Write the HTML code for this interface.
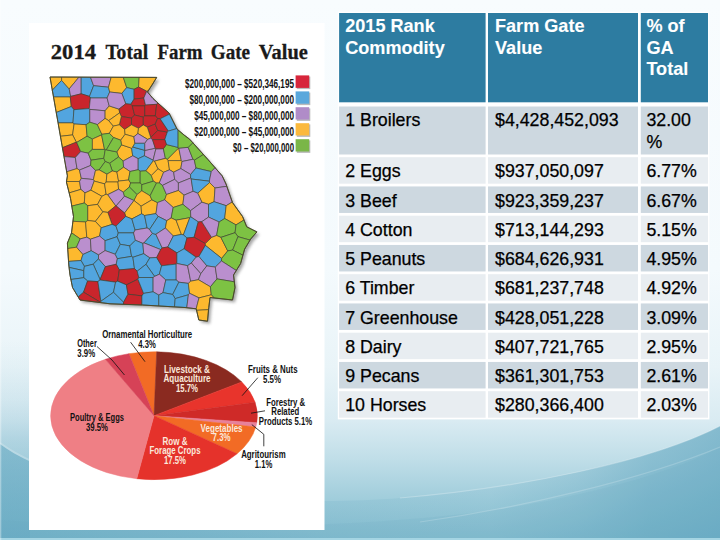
<!DOCTYPE html>
<html><head><meta charset="utf-8"><title>2014 Total Farm Gate Value</title>
<style>
html,body{margin:0;padding:0;}
body{width:720px;height:540px;overflow:hidden;position:relative;font-family:"Liberation Sans",sans-serif;
background:#ffffff;}
#bg{position:absolute;left:0;top:0;width:720px;height:540px;}
#panel{position:absolute;left:0;top:0;width:720px;height:540px;}
.c{position:absolute;}
.t{position:absolute;-webkit-text-stroke:0.25px currentColor;font-size:17.8px;line-height:21.6px;color:#000;white-space:pre;}
.h{font-weight:bold;color:#fff;font-size:18.1px;-webkit-text-stroke:0.1px #fff;}
</style></head><body>
<svg id="bg" viewBox="0 0 720 540">
<defs>
<linearGradient id="g1" x1="0" y1="0" x2="0" y2="1">
<stop offset="0" stop-color="#f8fcfe"/>
<stop offset="0.5" stop-color="#f4fafd"/>
<stop offset="0.68" stop-color="#e9f4f8"/>
<stop offset="0.78" stop-color="#d9ebf2"/>
<stop offset="0.85" stop-color="#c0dee8"/>
<stop offset="0.92" stop-color="#a2cedc"/>
<stop offset="1" stop-color="#86bed0"/>
</linearGradient>
<linearGradient id="gw1" x1="0" y1="0" x2="1" y2="0">
<stop offset="0" stop-color="#5fa5bf" stop-opacity="0.52"/>
<stop offset="0.06" stop-color="#5fa5bf" stop-opacity="0.5"/>
<stop offset="0.45" stop-color="#5fa5bf" stop-opacity="0.16"/>
<stop offset="0.68" stop-color="#5fa5bf" stop-opacity="0.1"/>
<stop offset="0.8" stop-color="#5fa5bf" stop-opacity="0.3"/>
<stop offset="0.9" stop-color="#5fa5bf" stop-opacity="0.55"/>
<stop offset="1" stop-color="#5fa5bf" stop-opacity="0.68"/>
</linearGradient>
<linearGradient id="gd" gradientUnits="userSpaceOnUse" x1="470" y1="400" x2="690" y2="560">
<stop offset="0" stop-color="#5fa5bf" stop-opacity="0"/>
<stop offset="0.35" stop-color="#5fa5bf" stop-opacity="0.12"/>
<stop offset="0.7" stop-color="#5fa5bf" stop-opacity="0.5"/>
<stop offset="1" stop-color="#5fa5bf" stop-opacity="0.6"/>
</linearGradient>
<linearGradient id="gl" gradientUnits="userSpaceOnUse" x1="0" y1="340" x2="0" y2="470">
<stop offset="0" stop-color="#5fa5bf" stop-opacity="0"/>
<stop offset="0.46" stop-color="#5fa5bf" stop-opacity="0.1"/>
<stop offset="0.77" stop-color="#5fa5bf" stop-opacity="0.26"/>
<stop offset="1" stop-color="#5fa5bf" stop-opacity="0.3"/>
</linearGradient>
</defs>
<rect width="720" height="540" fill="url(#g1)"/>
<rect x="0" y="340" width="30" height="200" fill="url(#gl)"/>
<path d="M0,444 C15,455 40,470 100,482 C200,500 320,505 400,498 C520,488 650,462 720,426 L720,540 L0,540Z" fill="url(#gw1)"/>
<path d="M0,520 C200,535 420,524 520,506 C600,492 680,470 720,447 L720,540 L0,540Z" fill="#5fa5bf" opacity="0.12"/>
<path d="M0,443 C15,454 40,469 100,481" stroke="#ffffff" stroke-opacity="0.2" stroke-width="2" fill="none"/>
<path d="M400,498 C520,488 650,462 720,426" stroke="#ffffff" stroke-opacity="0.25" stroke-width="1.2" fill="none"/>
<path d="M420,522 C520,508 640,480 720,447" stroke="#ffffff" stroke-opacity="0.18" stroke-width="1.2" fill="none"/>
<rect x="0" y="538" width="720" height="2" fill="#a5d5e3"/>
<rect x="0" y="0" width="1.3" height="540" fill="#ffffff" opacity="0.35"/>
<rect x="337.8" y="11.7" width="371.6" height="407.7" fill="#ffffff"/>
</svg>
<svg id="panel" viewBox="0 0 720 540">
<rect x="29" y="23" width="295.5" height="507" fill="#ffffff"/>
<g font-family="Liberation Serif" font-weight="bold" font-size="20.2" fill="#1a1a1a" stroke="#1a1a1a" stroke-width="0.3">
<text x="50.8" y="59.3" textLength="45.2" lengthAdjust="spacingAndGlyphs">2014</text>
<text x="105.4" y="59.3" textLength="42.7" lengthAdjust="spacingAndGlyphs">Total</text>
<text x="157.5" y="59.3" textLength="45" lengthAdjust="spacingAndGlyphs">Farm</text>
<text x="210.8" y="59.3" textLength="39.2" lengthAdjust="spacingAndGlyphs">Gate</text>
<text x="258.8" y="59.3" textLength="49" lengthAdjust="spacingAndGlyphs">Value</text>
</g>
<g>
<filter id="mb" x="-10%" y="-10%" width="120%" height="120%"><feGaussianBlur stdDeviation="1.6"/></filter>
<polygon points="52.5,79.5 159.2,79.9 154.5,87.5 150.0,94.5 155.5,101.0 161.5,106.5 171.5,115.5 175.5,123.5 179.5,131.5 186.5,137.5 192.1,141.7 210.5,162.1 224.7,178.4 228.5,186.5 234.9,204.9 245.1,219.1 249.2,229.3 259.4,234.4 253.2,241.5 247.1,251.7 243.1,266.0 236.0,277.5 237.5,290.0 235.0,302.5 212.5,300.0 211.2,310.0 210.0,323.8 201.2,322.5 198.8,311.2 187.5,310.0 145.0,307.5 112.5,306.2 82.5,302.5 75.0,290.0 72.5,277.5 71.2,267.5 70.3,252.5 69.9,245.6 74.0,235.4 76.0,219.1 73.0,200.8 68.9,184.5 69.9,178.4" fill="#8a8a8a" opacity="0.75" filter="url(#mb)"/>
<polygon points="50.0,77.0 156.7,77.4 152.0,85.0 147.5,92.0 153.0,98.5 159.0,104.0 169.0,113.0 173.0,121.0 177.0,129.0 184.0,135.0 189.6,139.2 208.0,159.6 222.2,175.9 226.0,184.0 232.4,202.4 242.6,216.6 246.7,226.8 256.9,231.9 250.7,239.0 244.6,249.2 240.6,263.5 233.5,275.0 235.0,287.5 232.5,300.0 210.0,297.5 208.8,307.5 207.5,321.2 198.8,320.0 196.2,308.8 185.0,307.5 142.5,305.0 110.0,303.8 80.0,300.0 72.5,287.5 70.0,275.0 68.8,265.0 67.8,250.0 67.4,243.1 71.5,232.9 73.5,216.6 70.5,198.3 66.4,182.0 67.4,175.9" fill="#52a5df"/>
<g stroke="#40402c" stroke-width="0.6" stroke-linejoin="round">
<polygon points="61.6,80.4 61.6,77.0 50.0,77.0 52.3,90.2" fill="#fdb92e"/>
<polygon points="61.6,80.4 52.3,90.2 53.5,97.0 70.3,97.0 70.7,96.4 69.2,88.9" fill="#52a5df"/>
<polygon points="61.6,80.4 69.2,88.9 79.0,77.1 61.6,77.0" fill="#fdb92e"/>
<polygon points="69.2,88.9 70.7,96.4 81.2,93.8 81.2,77.1 79.0,77.1" fill="#ba8fce"/>
<polygon points="81.2,93.8 89.5,96.4 93.6,85.7 90.5,77.2 81.2,77.1" fill="#52a5df"/>
<polygon points="93.6,85.7 108.5,87.2 111.2,77.2 90.5,77.2" fill="#ba8fce"/>
<polygon points="109.7,92.0 108.5,87.2 93.6,85.7 89.5,96.4 90.4,98.0 107.1,98.0" fill="#52a5df"/>
<polygon points="71.3,106.5 70.3,97.0 53.5,97.0 56.2,112.5" fill="#fdb92e"/>
<polygon points="89.3,108.6 90.4,98.0 89.5,96.4 81.2,93.8 70.7,96.4 70.3,97.0 71.3,106.5 73.9,109.7" fill="#c9252c"/>
<polygon points="73.0,122.9 73.9,109.7 71.3,106.5 56.2,112.5 58.1,122.9" fill="#52a5df"/>
<polygon points="89.3,108.6 73.9,109.7 73.0,122.9 74.1,124.0 86.1,124.7 89.8,122.2 89.8,109.4" fill="#52a5df"/>
<polygon points="107.1,98.0 90.4,98.0 89.3,108.6 89.8,109.4 105.1,110.8 109.2,105.9" fill="#ba8fce"/>
<polygon points="105.1,110.8 89.8,109.4 89.8,122.2 97.4,124.6 105.1,118.4" fill="#ba8fce"/>
<polygon points="109.2,105.9 105.1,110.8 105.1,118.4 108.7,120.6 119.7,112.8 119.0,109.1" fill="#fdb92e"/>
<polygon points="72.6,134.9 74.1,124.0 73.0,122.9 58.1,122.9 60.4,136.3" fill="#fdb92e"/>
<polygon points="86.1,124.7 74.1,124.0 72.6,134.9 76.3,142.2 76.7,142.4 87.1,136.2" fill="#fdb92e"/>
<polygon points="76.3,142.2 72.6,134.9 60.4,136.3 62.4,147.7" fill="#fdb92e"/>
<polygon points="97.4,124.6 89.8,122.2 86.1,124.7 87.1,136.2 92.4,139.1 101.6,134.9 101.9,134.3" fill="#7dc243"/>
<polygon points="113.4,126.1 108.7,120.6 105.1,118.4 97.4,124.6 101.9,134.3 109.4,133.3" fill="#fdb92e"/>
<polygon points="75.3,157.5 80.7,151.6 76.7,142.4 76.3,142.2 62.4,147.7 64.0,156.6" fill="#c9252c"/>
<polygon points="92.4,149.4 92.4,139.1 87.1,136.2 76.7,142.4 80.7,151.6 88.2,153.2" fill="#7dc243"/>
<polygon points="101.6,134.9 92.4,139.1 92.4,149.4 104.5,149.4" fill="#fdb92e"/>
<polygon points="113.6,137.5 109.4,133.3 101.9,134.3 101.6,134.9 104.5,149.4 105.2,149.9 106.4,149.8" fill="#7dc243"/>
<polygon points="118.5,157.0 123.2,161.0 132.7,155.8 131.6,148.2 121.5,144.8 116.8,151.9" fill="#fdb92e"/>
<polygon points="131.6,148.2 132.7,155.8 138.2,158.7 144.4,155.8 144.9,150.4 144.8,150.3 132.8,147.0" fill="#52a5df"/>
<polygon points="144.9,150.4 144.4,155.8 153.1,160.2 155.9,148.8 155.3,148.2" fill="#ba8fce"/>
<polygon points="77.0,168.6 75.3,157.5 64.0,156.6 66.7,171.8" fill="#ba8fce"/>
<polygon points="91.0,160.2 88.2,153.2 80.7,151.6 75.3,157.5 77.0,168.6 79.5,170.1 90.6,165.5" fill="#ba8fce"/>
<polygon points="105.2,149.9 104.5,149.4 92.4,149.4 88.2,153.2 91.0,160.2 103.8,158.3" fill="#7dc243"/>
<polygon points="99.2,169.9 105.2,161.5 103.8,158.3 91.0,160.2 90.6,165.5 95.5,170.4" fill="#7dc243"/>
<polygon points="105.2,161.5 109.7,163.3 118.5,157.0 116.8,151.9 106.4,149.8 105.2,149.9 103.8,158.3" fill="#7dc243"/>
<polygon points="123.6,167.2 123.2,161.0 118.5,157.0 109.7,163.3 112.3,171.0 116.9,172.0" fill="#7dc243"/>
<polygon points="99.2,169.9 106.9,174.2 112.3,171.0 109.7,163.3 105.2,161.5" fill="#7dc243"/>
<polygon points="138.2,158.7 132.7,155.8 123.2,161.0 123.6,167.2 130.0,171.5 138.2,169.7" fill="#ba8fce"/>
<polygon points="140.2,171.2 145.9,170.8 153.4,160.7 153.1,160.2 144.4,155.8 138.2,158.7 138.2,169.7" fill="#52a5df"/>
<polygon points="151.3,175.5 158.0,168.8 154.6,161.1 153.4,160.7 145.9,170.8" fill="#fdb92e"/>
<polygon points="79.6,181.5 81.3,178.3 79.5,170.1 77.0,168.6 66.7,171.8 67.4,175.9 66.5,181.5" fill="#fdb92e"/>
<polygon points="90.6,165.5 79.5,170.1 81.3,178.3 93.4,179.6 95.5,170.4" fill="#ba8fce"/>
<polygon points="93.4,179.6 94.2,181.1 104.6,183.9 106.2,182.0 106.9,174.2 99.2,169.9 95.5,170.4" fill="#fdb92e"/>
<polygon points="116.9,172.0 112.3,171.0 106.9,174.2 106.2,182.0 118.0,182.0 118.6,181.1" fill="#fdb92e"/>
<polygon points="128.5,180.0 130.0,171.5 123.6,167.2 116.9,172.0 118.6,181.1" fill="#fdb92e"/>
<polygon points="130.6,183.0 140.2,183.0 140.2,171.2 138.2,169.7 130.0,171.5 128.5,180.0" fill="#7dc243"/>
<polygon points="140.2,183.0 141.8,184.7 153.4,181.2 151.3,175.5 145.9,170.8 140.2,171.2" fill="#7dc243"/>
<polygon points="153.1,160.2 153.4,160.7 154.6,161.1 165.4,158.4 163.4,148.7 155.9,148.8" fill="#ba8fce"/>
<polygon points="163.4,148.7 165.4,158.4 167.4,159.4 178.7,148.1 178.1,147.4 166.4,144.5" fill="#7dc243"/>
<polygon points="178.8,148.1 178.7,148.1 167.4,159.4 168.1,160.6 181.3,160.6" fill="#fdb92e"/>
<polygon points="193.0,159.3 188.2,147.3 178.8,148.1 181.3,160.6 182.0,161.5" fill="#ba8fce"/>
<polygon points="188.2,147.3 193.0,159.3 194.4,160.2 203.4,154.5 192.8,142.7" fill="#7dc243"/>
<polygon points="168.1,160.6 167.4,159.4 165.4,158.4 154.6,161.1 158.0,168.8 163.6,172.3 169.5,169.8" fill="#fdb92e"/>
<polygon points="180.8,168.6 182.0,161.5 181.3,160.6 168.1,160.6 169.5,169.8 173.7,172.2" fill="#fdb92e"/>
<polygon points="180.8,168.6 190.6,174.5 196.0,168.0 194.4,160.2 193.0,159.3 182.0,161.5" fill="#ba8fce"/>
<polygon points="194.4,160.2 196.0,168.0 211.3,171.6 215.1,167.7 208.0,159.6 203.4,154.5" fill="#7dc243"/>
<polygon points="158.0,168.8 151.3,175.5 153.4,181.2 156.5,183.0 159.3,183.0 163.6,172.3" fill="#fdb92e"/>
<polygon points="169.5,169.8 163.6,172.3 159.3,183.0 162.5,185.4 174.7,179.3 173.7,172.2" fill="#ba8fce"/>
<polygon points="174.7,179.3 178.4,183.0 190.6,178.1 190.6,174.5 180.8,168.6 173.7,172.2" fill="#ba8fce"/>
<polygon points="191.2,179.0 209.3,181.2 211.3,171.6 196.0,168.0 190.6,174.5 190.6,178.1" fill="#52a5df"/>
<polygon points="211.3,171.6 209.3,181.2 209.6,182.6 215.0,188.0 226.8,186.3 226.0,184.0 222.2,175.9 215.1,167.7" fill="#ba8fce"/>
<polygon points="80.8,189.4 79.6,181.5 66.5,181.5 66.4,182.0 69.2,192.9" fill="#fdb92e"/>
<polygon points="81.3,178.3 79.6,181.5 80.8,189.4 85.0,192.9 90.9,190.2 94.2,181.1 93.4,179.6" fill="#ba8fce"/>
<polygon points="104.6,183.9 94.2,181.1 90.9,190.2 101.9,196.3 106.1,194.2" fill="#fdb92e"/>
<polygon points="118.6,189.2 118.0,182.0 106.2,182.0 104.6,183.9 106.1,194.2 107.6,194.7" fill="#fdb92e"/>
<polygon points="129.4,187.0 130.6,183.0 128.5,180.0 118.6,181.1 118.0,182.0 118.6,189.2 123.3,192.2" fill="#fdb92e"/>
<polygon points="129.4,187.0 137.0,194.6 141.8,190.8 141.8,184.7 140.2,183.0 130.6,183.0" fill="#7dc243"/>
<polygon points="141.8,184.7 141.8,190.8 150.1,195.8 156.5,183.0 153.4,181.2" fill="#7dc243"/>
<polygon points="84.3,203.0 85.0,192.9 80.8,189.4 69.2,192.9 70.5,198.3 71.8,206.1" fill="#fdb92e"/>
<polygon points="90.9,190.2 85.0,192.9 84.3,203.0 87.8,205.7 97.6,204.4 101.9,196.3" fill="#fdb92e"/>
<polygon points="115.7,205.9 116.1,205.9 124.5,196.2 123.3,192.2 118.6,189.2 107.6,194.7" fill="#ba8fce"/>
<polygon points="124.5,196.2 134.0,200.5 134.0,200.5 137.0,194.6 129.4,187.0 123.3,192.2" fill="#7dc243"/>
<polygon points="141.1,206.2 151.9,199.8 150.1,195.8 141.8,190.8 137.0,194.6 134.0,200.5" fill="#fdb92e"/>
<polygon points="85.6,222.0 87.8,220.5 87.8,205.7 84.3,203.0 71.8,206.1 73.5,216.6 72.9,221.3" fill="#7dc243"/>
<polygon points="97.6,204.4 87.8,205.7 87.8,220.5 95.4,221.4 102.9,211.8" fill="#fdb92e"/>
<polygon points="106.1,194.2 101.9,196.3 97.6,204.4 102.9,211.8 107.8,212.4 115.7,205.9 107.6,194.7" fill="#fdb92e"/>
<polygon points="124.6,213.0 134.0,200.5 124.5,196.2 116.1,205.9" fill="#ba8fce"/>
<polygon points="125.7,216.4 131.9,218.9 141.6,213.8 141.1,206.2 134.0,200.5 134.0,200.5 124.6,213.0" fill="#fdb92e"/>
<polygon points="144.6,215.5 156.0,213.6 157.5,202.6 151.9,199.8 141.1,206.2 141.6,213.8" fill="#fdb92e"/>
<polygon points="112.1,224.4 116.0,226.1 125.7,216.4 124.6,213.0 116.1,205.9 115.7,205.9 107.8,212.4" fill="#c9252c"/>
<polygon points="102.9,211.8 95.4,221.4 101.2,227.8 112.1,224.4 107.8,212.4" fill="#fdb92e"/>
<polygon points="85.6,222.0 72.9,221.3 71.5,232.8 80.2,238.9 86.8,237.2" fill="#fdb92e"/>
<polygon points="95.4,221.4 87.8,220.5 85.6,222.0 86.8,237.2 90.4,239.2 99.6,236.1 101.2,227.8" fill="#fdb92e"/>
<polygon points="99.6,236.1 105.1,240.7 117.1,236.7 118.3,232.9 116.0,226.1 112.1,224.4 101.2,227.8" fill="#52a5df"/>
<polygon points="116.0,226.1 118.3,232.9 133.6,232.9 135.1,230.0 131.9,218.9 125.7,216.4" fill="#52a5df"/>
<polygon points="147.1,228.0 144.6,215.5 141.6,213.8 131.9,218.9 135.1,230.0" fill="#52a5df"/>
<polygon points="149.6,229.4 158.2,216.4 156.0,213.6 144.6,215.5 147.1,228.0" fill="#52a5df"/>
<polygon points="76.5,247.2 80.2,238.9 71.5,232.8 71.5,232.9 67.4,243.1 67.7,248.6" fill="#7dc243"/>
<polygon points="91.2,250.7 90.4,239.2 86.8,237.2 80.2,238.9 76.5,247.2 82.9,254.5" fill="#ba8fce"/>
<polygon points="98.5,254.9 105.1,250.6 105.1,240.7 99.6,236.1 90.4,239.2 91.2,250.7" fill="#ba8fce"/>
<polygon points="105.1,240.7 105.1,250.6 115.3,254.3 120.3,244.3 117.1,236.7" fill="#52a5df"/>
<polygon points="120.3,244.3 129.8,245.9 135.4,240.3 133.6,232.9 118.3,232.9 117.1,236.7" fill="#52a5df"/>
<polygon points="133.6,232.9 135.4,240.3 142.9,243.4 144.0,242.9 152.4,233.4 149.6,229.4 147.1,228.0 135.1,230.0" fill="#ba8fce"/>
<polygon points="144.0,242.9 160.7,249.6 162.2,247.9 155.9,234.3 152.4,233.4" fill="#52a5df"/>
<polygon points="81.0,260.5 82.9,254.5 76.5,247.2 67.7,248.6 67.8,250.0 68.5,261.4" fill="#fdb92e"/>
<polygon points="93.2,264.2 98.5,258.9 98.5,254.9 91.2,250.7 82.9,254.5 81.0,260.5 84.4,266.4" fill="#52a5df"/>
<polygon points="105.4,266.7 116.2,264.3 117.4,258.7 115.3,254.3 105.1,250.6 98.5,254.9 98.5,258.9" fill="#ba8fce"/>
<polygon points="115.3,254.3 117.4,258.7 131.6,256.4 129.8,245.9 120.3,244.3" fill="#52a5df"/>
<polygon points="142.9,243.4 135.4,240.3 129.8,245.9 131.6,256.4 132.9,257.3 143.7,253.7" fill="#52a5df"/>
<polygon points="144.0,242.9 142.9,243.4 143.7,253.7 149.8,257.9 156.7,257.5 160.7,249.6" fill="#ba8fce"/>
<polygon points="83.8,270.7 84.4,266.4 81.0,260.5 68.5,261.4 68.8,265.0 69.0,267.4" fill="#52a5df"/>
<polygon points="100.1,279.6 105.4,266.7 98.5,258.9 93.2,264.2" fill="#52a5df"/>
<polygon points="116.2,264.3 119.3,269.9 134.5,268.6 132.9,257.3 131.6,256.4 117.4,258.7" fill="#52a5df"/>
<polygon points="132.9,257.3 134.5,268.6 137.2,271.2 146.0,264.3 149.8,257.9 143.7,253.7" fill="#52a5df"/>
<polygon points="146.0,264.3 154.6,276.4 159.4,274.2 161.6,265.8 156.7,257.5 149.8,257.9" fill="#52a5df"/>
<polygon points="159.3,183.0 156.5,183.0 150.1,195.8 151.9,199.8 157.5,202.6 164.7,199.8 166.5,194.5 162.5,185.4" fill="#7dc243"/>
<polygon points="162.5,185.4 166.5,194.5 178.4,190.5 178.4,183.0 174.7,179.3" fill="#ba8fce"/>
<polygon points="184.0,195.2 193.1,191.3 191.2,179.0 190.6,178.1 178.4,183.0 178.4,190.5" fill="#ba8fce"/>
<polygon points="193.1,191.3 197.7,193.2 209.6,182.6 209.3,181.2 191.2,179.0" fill="#52a5df"/>
<polygon points="201.9,202.2 208.5,204.3 214.1,201.7 215.0,188.0 209.6,182.6 197.7,193.2" fill="#fdb92e"/>
<polygon points="215.0,188.0 214.1,201.7 226.2,205.7 232.3,202.0 226.8,186.3" fill="#ba8fce"/>
<polygon points="166.5,194.5 164.7,199.8 173.2,207.5 182.9,204.3 184.0,195.2 178.4,190.5" fill="#fdb92e"/>
<polygon points="184.0,195.2 182.9,204.3 190.5,210.7 201.9,202.2 197.7,193.2 193.1,191.3" fill="#ba8fce"/>
<polygon points="166.7,220.7 171.2,218.0 173.2,207.5 164.7,199.8 157.5,202.6 156.0,213.6 158.2,216.4" fill="#ba8fce"/>
<polygon points="171.2,218.0 176.1,220.2 189.8,217.7 190.8,216.9 190.5,210.7 182.9,204.3 173.2,207.5" fill="#7dc243"/>
<polygon points="208.5,217.1 208.5,204.3 201.9,202.2 190.5,210.7 190.8,216.9 198.3,221.9 201.8,221.7" fill="#ba8fce"/>
<polygon points="214.1,201.7 208.5,204.3 208.5,217.1 219.1,222.0 224.7,218.5 226.2,205.7" fill="#52a5df"/>
<polygon points="224.7,218.5 236.0,224.9 244.0,220.0 242.6,216.6 232.4,202.4 232.3,202.0 226.2,205.7" fill="#fdb92e"/>
<polygon points="149.6,229.4 152.4,233.4 155.9,234.3 165.4,228.0 166.7,220.7 158.2,216.4" fill="#52a5df"/>
<polygon points="165.4,228.0 173.3,236.0 181.4,234.4 176.1,220.2 171.2,218.0 166.7,220.7" fill="#fdb92e"/>
<polygon points="183.4,234.9 189.8,217.7 176.1,220.2 181.4,234.4" fill="#fdb92e"/>
<polygon points="187.0,238.0 194.1,237.3 198.3,221.9 190.8,216.9 189.8,217.7 183.4,234.9" fill="#52a5df"/>
<polygon points="198.3,221.9 194.1,237.3 205.4,243.6 211.6,237.4 201.8,221.7" fill="#c9252c"/>
<polygon points="211.6,237.4 216.6,235.5 219.1,222.0 208.5,217.1 201.8,221.7" fill="#ba8fce"/>
<polygon points="235.1,232.7 236.0,224.9 224.7,218.5 219.1,222.0 216.6,235.5 220.9,237.4" fill="#7dc243"/>
<polygon points="236.0,224.9 235.1,232.7 238.0,236.7 250.0,240.1 250.7,239.0 256.9,231.9 246.7,226.8 244.0,220.0" fill="#7dc243"/>
<polygon points="162.2,247.9 167.8,247.0 173.3,236.0 165.4,228.0 155.9,234.3" fill="#ba8fce"/>
<polygon points="176.9,252.9 184.1,248.8 187.0,238.0 183.4,234.9 181.4,234.4 173.3,236.0 167.8,247.0" fill="#52a5df"/>
<polygon points="198.9,256.5 205.4,245.4 205.4,243.6 194.1,237.3 187.0,238.0 184.1,248.8 196.1,257.2" fill="#c9252c"/>
<polygon points="220.9,237.4 216.6,235.5 211.6,237.4 205.4,243.6 205.4,245.4 221.7,258.4 227.7,250.9" fill="#fdb92e"/>
<polygon points="232.7,250.1 238.0,236.7 235.1,232.7 220.9,237.4 227.7,250.9" fill="#7dc243"/>
<polygon points="242.9,255.2 244.6,249.2 250.0,240.1 238.0,236.7 232.7,250.1" fill="#7dc243"/>
<polygon points="156.7,257.5 161.6,265.8 176.2,264.1 176.9,263.5 176.9,252.9 167.8,247.0 162.2,247.9 160.7,249.6" fill="#c9252c"/>
<polygon points="176.9,263.5 187.6,265.7 191.3,263.0 196.1,257.2 184.1,248.8 176.9,252.9" fill="#52a5df"/>
<polygon points="206.8,265.9 215.3,267.1 221.5,261.0 221.7,258.4 205.4,245.4 198.9,256.5" fill="#52a5df"/>
<polygon points="221.7,258.4 221.5,261.0 236.3,270.5 240.6,263.5 242.9,255.2 232.7,250.1 227.7,250.9" fill="#7dc243"/>
<polygon points="200.8,273.7 206.8,265.9 198.9,256.5 196.1,257.2 191.3,263.0" fill="#ba8fce"/>
<polygon points="69.0,267.4 70.0,275.0 70.9,279.5 83.8,277.7 83.8,270.7" fill="#52a5df"/>
<polygon points="83.8,270.7 83.8,277.7 87.6,281.0 97.9,281.6 100.0,280.0 100.1,279.6 93.2,264.2 84.4,266.4" fill="#52a5df"/>
<polygon points="100.1,279.6 100.0,280.0 115.6,282.2 117.7,281.2 119.3,269.9 116.2,264.3 105.4,266.7" fill="#c9252c"/>
<polygon points="134.5,268.6 119.3,269.9 117.7,281.2 126.4,284.9 137.9,279.2 138.8,277.5 137.2,271.2" fill="#c9252c"/>
<polygon points="137.2,271.2 138.8,277.5 153.1,277.5 154.6,276.4 146.0,264.3" fill="#52a5df"/>
<polygon points="159.4,274.2 165.8,280.0 176.2,280.0 176.2,264.1 161.6,265.8" fill="#52a5df"/>
<polygon points="176.2,280.0 178.9,282.2 188.3,283.4 190.7,281.2 187.6,265.7 176.9,263.5 176.2,264.1" fill="#ba8fce"/>
<polygon points="187.6,265.7 190.7,281.2 198.4,279.7 200.8,273.7 191.3,263.0" fill="#ba8fce"/>
<polygon points="200.8,273.7 198.4,279.7 210.4,286.8 217.0,278.9 215.3,267.1 206.8,265.9" fill="#ba8fce"/>
<polygon points="221.5,261.0 215.3,267.1 217.0,278.9 234.3,281.8 233.5,275.0 236.3,270.5" fill="#ba8fce"/>
<polygon points="83.6,292.2 87.6,281.0 83.8,277.7 70.9,279.5 72.5,287.5 78.2,297.0" fill="#52a5df"/>
<polygon points="83.6,292.2 100.6,302.4 100.9,301.3 97.9,281.6 87.6,281.0" fill="#c9252c"/>
<polygon points="97.9,281.6 100.9,301.3 113.5,292.3 115.6,282.2 100.0,280.0" fill="#52a5df"/>
<polygon points="117.7,281.2 115.6,282.2 113.5,292.3 123.6,302.3 128.0,294.2 126.4,284.9" fill="#52a5df"/>
<polygon points="126.4,284.9 128.0,294.2 141.9,295.9 143.6,293.4 137.9,279.2" fill="#c9252c"/>
<polygon points="137.9,279.2 143.6,293.4 153.1,291.8 153.1,277.5 138.8,277.5" fill="#52a5df"/>
<polygon points="153.1,277.5 153.1,291.8 158.8,295.1 163.0,292.6 165.8,280.0 159.4,274.2 154.6,276.4" fill="#ba8fce"/>
<polygon points="163.0,292.6 172.7,294.5 178.9,282.2 176.2,280.0 165.8,280.0" fill="#52a5df"/>
<polygon points="172.7,294.5 175.2,298.6 188.4,294.8 189.6,293.3 188.3,283.4 178.9,282.2" fill="#52a5df"/>
<polygon points="188.3,283.4 189.6,293.3 199.0,297.9 211.3,294.8 210.4,286.8 198.4,279.7 190.7,281.2" fill="#fdb92e"/>
<polygon points="210.4,286.8 211.3,294.8 214.0,297.9 232.5,300.0 235.0,287.5 234.3,281.8 217.0,278.9" fill="#7dc243"/>
<polygon points="78.2,297.0 80.0,300.0 100.6,302.6 100.6,302.4 83.6,292.2" fill="#c9252c"/>
<polygon points="100.9,301.3 100.6,302.4 100.6,302.6 110.0,303.8 123.4,304.3 123.6,302.3 113.5,292.3" fill="#52a5df"/>
<polygon points="141.9,295.9 128.0,294.2 123.6,302.3 123.4,304.3 141.9,305.0" fill="#c9252c"/>
<polygon points="158.8,295.1 153.1,291.8 143.6,293.4 141.9,295.9 141.9,305.0 142.5,305.0 158.8,306.0" fill="#52a5df"/>
<polygon points="175.2,298.6 172.7,294.5 163.0,292.6 158.8,295.1 158.8,306.0 174.5,306.9" fill="#52a5df"/>
<polygon points="188.4,294.8 175.2,298.6 174.5,306.9 185.0,307.5 186.8,307.7" fill="#52a5df"/>
<polygon points="199.0,297.9 189.6,293.3 188.4,294.8 186.8,307.7 196.2,308.8" fill="#ba8fce"/>
<polygon points="208.5,309.7 208.8,307.5 210.0,297.5 214.0,297.9 211.3,294.8 199.0,297.9 196.2,308.8 196.6,310.3" fill="#fdb92e"/>
<polygon points="196.6,310.3 198.8,320.0 207.5,321.2 208.5,309.7" fill="#fdb92e"/>
<polygon points="108.5,87.2 109.7,92.0 121.8,93.4 126.7,87.6 123.3,77.3 111.2,77.2" fill="#fdb92e"/>
<polygon points="126.7,87.6 134.1,89.3 138.6,87.0 139.2,77.3 123.3,77.3" fill="#7dc243"/>
<polygon points="148.2,90.9 152.0,85.0 156.7,77.4 139.2,77.3 138.6,87.0 146.7,91.3" fill="#fdb92e"/>
<polygon points="134.1,99.1 134.1,89.3 126.7,87.6 121.8,93.4 125.7,103.8 130.8,104.3" fill="#52a5df"/>
<polygon points="143.8,98.0 146.7,91.3 138.6,87.0 134.1,89.3 134.1,99.1" fill="#c9252c"/>
<polygon points="132.3,105.9 144.8,105.9 145.5,105.1 143.8,98.0 134.1,99.1 130.8,104.3" fill="#c9252c"/>
<polygon points="156.7,104.3 157.9,103.0 153.0,98.5 147.5,92.0 148.2,90.9 146.7,91.3 143.8,98.0 145.5,105.1" fill="#ba8fce"/>
<polygon points="121.8,93.4 109.7,92.0 107.1,98.0 109.2,105.9 119.0,109.1 125.7,103.8" fill="#ba8fce"/>
<polygon points="134.6,115.0 132.3,105.9 130.8,104.3 125.7,103.8 119.0,109.1 119.7,112.8 121.3,116.5 131.5,118.1" fill="#c9252c"/>
<polygon points="143.3,117.2 144.8,115.9 144.8,105.9 132.3,105.9 134.6,115.0" fill="#c9252c"/>
<polygon points="144.8,105.9 144.8,115.9 155.3,115.9 156.7,104.3 145.5,105.1" fill="#c9252c"/>
<polygon points="156.7,104.3 155.3,115.9 157.6,118.5 160.2,118.8 169.6,114.1 169.0,113.0 159.0,104.0 157.9,103.0" fill="#c9252c"/>
<polygon points="121.3,116.5 119.3,124.8 124.6,129.4 131.5,124.8 131.5,118.1" fill="#c9252c"/>
<polygon points="131.5,124.8 138.5,128.3 143.3,124.9 143.3,117.2 134.6,115.0 131.5,118.1" fill="#c9252c"/>
<polygon points="143.3,124.9 147.3,127.2 155.2,124.1 157.6,118.5 155.3,115.9 144.8,115.9 143.3,117.2" fill="#c9252c"/>
<polygon points="150.7,137.4 150.6,138.2 152.5,139.6 164.8,139.6 167.3,132.0 157.7,130.4" fill="#c9252c"/>
<polygon points="147.3,127.2 150.7,137.4 157.7,130.4 155.2,124.1" fill="#c9252c"/>
<polygon points="157.7,130.4 167.3,132.0 168.4,131.1 160.2,118.8 157.6,118.5 155.2,124.1" fill="#c9252c"/>
<polygon points="160.2,118.8 168.4,131.1 176.8,128.6 173.0,121.0 169.6,114.1" fill="#52a5df"/>
<polygon points="178.1,147.4 178.1,130.0 177.0,129.0 176.8,128.6 168.4,131.1 167.3,132.0 164.8,139.6 166.4,144.5" fill="#52a5df"/>
<polygon points="178.1,147.4 178.7,148.1 178.8,148.1 188.2,147.3 192.8,142.7 189.6,139.2 184.0,135.0 178.1,130.0" fill="#7dc243"/>
<polygon points="119.7,112.8 108.7,120.6 113.4,126.1 119.3,124.8 121.3,116.5" fill="#fdb92e"/>
<polygon points="119.3,124.8 113.4,126.1 109.4,133.3 113.6,137.5 120.7,140.2 125.1,134.3 124.6,129.4" fill="#fdb92e"/>
<polygon points="124.6,129.4 125.1,134.3 133.9,136.8 137.9,133.5 138.5,128.3 131.5,124.8" fill="#fdb92e"/>
<polygon points="137.9,133.5 147.6,139.4 150.6,138.2 150.7,137.4 147.3,127.2 143.3,124.9 138.5,128.3" fill="#fdb92e"/>
<polygon points="125.1,134.3 120.7,140.2 121.5,144.8 131.6,148.2 132.8,147.0 134.9,143.3 133.9,136.8" fill="#fdb92e"/>
<polygon points="133.9,136.8 134.9,143.3 144.8,143.3 147.6,139.4 137.9,133.5" fill="#ba8fce"/>
<polygon points="116.8,151.9 121.5,144.8 120.7,140.2 113.6,137.5 106.4,149.8" fill="#7dc243"/>
<polygon points="144.8,150.3 144.8,143.3 134.9,143.3 132.8,147.0" fill="#52a5df"/>
<polygon points="152.5,139.6 150.6,138.2 147.6,139.4 144.8,143.3 144.8,150.3 144.9,150.4 155.3,148.2" fill="#ba8fce"/>
<polygon points="155.9,148.8 163.4,148.7 166.4,144.5 164.8,139.6 152.5,139.6 155.3,148.2" fill="#c9252c"/>
</g>
<polygon points="50.0,77.0 156.7,77.4 152.0,85.0 147.5,92.0 153.0,98.5 159.0,104.0 169.0,113.0 173.0,121.0 177.0,129.0 184.0,135.0 189.6,139.2 208.0,159.6 222.2,175.9 226.0,184.0 232.4,202.4 242.6,216.6 246.7,226.8 256.9,231.9 250.7,239.0 244.6,249.2 240.6,263.5 233.5,275.0 235.0,287.5 232.5,300.0 210.0,297.5 208.8,307.5 207.5,321.2 198.8,320.0 196.2,308.8 185.0,307.5 142.5,305.0 110.0,303.8 80.0,300.0 72.5,287.5 70.0,275.0 68.8,265.0 67.8,250.0 67.4,243.1 71.5,232.9 73.5,216.6 70.5,198.3 66.4,182.0 67.4,175.9" fill="none" stroke="#4d4a2a" stroke-width="1"/>
</g>
<g font-family="Liberation Sans" font-weight="bold" font-size="13" fill="#111" text-anchor="end">
<text x="294" y="88" textLength="109" lengthAdjust="spacingAndGlyphs">$200,000,000 – $520,346,195</text>
<text x="294" y="104" textLength="104.6" lengthAdjust="spacingAndGlyphs">$80,000,000 – $200,000,000</text>
<text x="294" y="119.8" textLength="99.8" lengthAdjust="spacingAndGlyphs">$45,000,000 – $80,000,000</text>
<text x="294" y="135.8" textLength="99.8" lengthAdjust="spacingAndGlyphs">$20,000,000 – $45,000,000</text>
<text x="294" y="151.8" textLength="61" lengthAdjust="spacingAndGlyphs">$0 – $20,000,000</text>
</g>
<g>
<rect x="296.8" y="76.6" width="13.5" height="12.5" fill="#bbb"/>
<rect x="295.6" y="75.4" width="13.6" height="12.5" fill="#d7263b"/>
<rect x="296.8" y="92.6" width="13.5" height="12.5" fill="#bbb"/>
<rect x="295.6" y="91.4" width="13.6" height="12.3" fill="#5aa8dc"/>
<rect x="296.8" y="108.4" width="13.5" height="12.5" fill="#bbb"/>
<rect x="295.6" y="107.2" width="13.6" height="12.3" fill="#b08cc8"/>
<rect x="296.8" y="124.4" width="13.5" height="12.5" fill="#bbb"/>
<rect x="295.6" y="123.2" width="13.6" height="12.3" fill="#fbb93c"/>
<rect x="296.8" y="140.4" width="13.5" height="12.5" fill="#bbb"/>
<rect x="295.6" y="139.2" width="13.6" height="12.3" fill="#7ab648"/>
</g>
<g>
<path d="M154,415.7 L128.99,353.70 A103.4,63.9 0 0 1 156.70,351.82 Z" fill="#f26b25" stroke="#f26b25" stroke-width="0.5"/>
<path d="M154,415.7 L156.70,351.82 A103.4,63.9 0 0 1 241.76,381.91 Z" fill="#8a2a20" stroke="#8a2a20" stroke-width="0.5"/>
<path d="M154,415.7 L241.76,381.91 A103.4,63.9 0 0 1 255.10,402.30 Z" fill="#e8342c" stroke="#e8342c" stroke-width="0.5"/>
<path d="M154,415.7 L255.10,402.30 A103.4,63.9 0 0 1 256.78,422.68 Z" fill="#cf2a28" stroke="#cf2a28" stroke-width="0.5"/>
<path d="M154,415.7 L256.78,422.68 A103.4,63.9 0 0 1 255.75,427.05 Z" fill="#e8819a" stroke="#e8819a" stroke-width="0.5"/>
<path d="M154,415.7 L255.75,427.05 A103.4,63.9 0 0 1 237.08,453.75 Z" fill="#f26b25" stroke="#f26b25" stroke-width="0.5"/>
<path d="M154,415.7 L237.08,453.75 A103.4,63.9 0 0 1 136.75,478.70 Z" fill="#e5322b" stroke="#e5322b" stroke-width="0.5"/>
<path d="M154,415.7 L136.75,478.70 A103.4,63.9 0 0 1 105.37,359.31 Z" fill="#ef7f85" stroke="#ef7f85" stroke-width="0.5"/>
<path d="M154,415.7 L105.37,359.31 A103.4,63.9 0 0 1 128.99,353.70 Z" fill="#d64257" stroke="#d64257" stroke-width="0.5"/>
</g>
<g stroke="#111" stroke-width="0.8" fill="none">
<path d="M97,346.5 L112,360 L124.5,375"/>
<path d="M130.6,342.2 L145,361.7"/>
<path d="M257.8,377.7 L242.1,395.7"/>
<path d="M265,410.8 L251,413.2"/>
<path d="M251.8,424.6 L263.8,434.3 L263.8,446.3"/>
</g>
<g font-family="Liberation Sans" font-weight="bold" font-size="10" fill="#111" text-anchor="middle">
<text x="147.2" y="338" textLength="90" lengthAdjust="spacingAndGlyphs">Ornamental Horticulture</text>
<text x="147" y="347.6" textLength="17.5" lengthAdjust="spacingAndGlyphs">4.3%</text>
<text x="87" y="347.4" textLength="19.6" lengthAdjust="spacingAndGlyphs">Other</text>
<text x="86.2" y="356.6" textLength="17.8" lengthAdjust="spacingAndGlyphs">3.9%</text>
<text x="97" y="420.5" textLength="54" lengthAdjust="spacingAndGlyphs">Poultry &amp; Eggs</text>
<text x="97" y="430.6" textLength="22" lengthAdjust="spacingAndGlyphs">39.5%</text>
<text x="272.8" y="373.3" textLength="49.5" lengthAdjust="spacingAndGlyphs">Fruits &amp; Nuts</text>
<text x="272" y="382.8" textLength="18" lengthAdjust="spacingAndGlyphs">5.5%</text>
<text x="285.7" y="405.5" textLength="39" lengthAdjust="spacingAndGlyphs">Forestry &amp;</text>
<text x="285.3" y="415.2" textLength="28" lengthAdjust="spacingAndGlyphs">Related</text>
<text x="285.5" y="424.8" textLength="53.5" lengthAdjust="spacingAndGlyphs">Products 5.1%</text>
<text x="263.4" y="458.3" textLength="44.5" lengthAdjust="spacingAndGlyphs">Agritourism</text>
<text x="263.6" y="467.5" textLength="17.6" lengthAdjust="spacingAndGlyphs">1.1%</text>
</g>
<g font-family="Liberation Sans" font-weight="bold" font-size="10" fill="#fbe9dc" text-anchor="middle">
<text x="187" y="372.8" textLength="46" lengthAdjust="spacingAndGlyphs">Livestock &amp;</text>
<text x="187" y="382.4" textLength="47" lengthAdjust="spacingAndGlyphs">Aquaculture</text>
<text x="187" y="392" textLength="22" lengthAdjust="spacingAndGlyphs">15.7%</text>
<text x="175" y="444.5" textLength="25" lengthAdjust="spacingAndGlyphs">Row &amp;</text>
<text x="175" y="454.3" textLength="51" lengthAdjust="spacingAndGlyphs">Forage Crops</text>
<text x="175" y="464" textLength="22" lengthAdjust="spacingAndGlyphs">17.5%</text>
<text x="221.6" y="431.8" textLength="42" lengthAdjust="spacingAndGlyphs">Vegetables</text>
<text x="221.6" y="441.3" textLength="18" lengthAdjust="spacingAndGlyphs">7.3%</text>
</g>
</svg>
<svg style="position:absolute;left:0;top:0" width="720" height="540" viewBox="0 0 720 540"><rect x="339.1" y="13.00" width="146.50" height="89.30" fill="#2d7ca1"/>
<rect x="488.0" y="13.00" width="150.00" height="89.30" fill="#2d7ca1"/>
<rect x="640.8" y="13.00" width="67.20" height="89.30" fill="#2d7ca1"/>
<rect x="339.1" y="106.50" width="146.50" height="48.00" fill="#cdd8e0"/>
<rect x="488.0" y="106.50" width="150.00" height="48.00" fill="#cdd8e0"/>
<rect x="640.8" y="106.50" width="67.20" height="48.00" fill="#cdd8e0"/>
<rect x="339.1" y="157.20" width="146.50" height="26.50" fill="#e8edf1"/>
<rect x="488.0" y="157.20" width="150.00" height="26.50" fill="#e8edf1"/>
<rect x="640.8" y="157.20" width="67.20" height="26.50" fill="#e8edf1"/>
<rect x="339.1" y="186.45" width="146.50" height="26.50" fill="#cdd8e0"/>
<rect x="488.0" y="186.45" width="150.00" height="26.50" fill="#cdd8e0"/>
<rect x="640.8" y="186.45" width="67.20" height="26.50" fill="#cdd8e0"/>
<rect x="339.1" y="215.70" width="146.50" height="26.50" fill="#e8edf1"/>
<rect x="488.0" y="215.70" width="150.00" height="26.50" fill="#e8edf1"/>
<rect x="640.8" y="215.70" width="67.20" height="26.50" fill="#e8edf1"/>
<rect x="339.1" y="244.95" width="146.50" height="26.50" fill="#cdd8e0"/>
<rect x="488.0" y="244.95" width="150.00" height="26.50" fill="#cdd8e0"/>
<rect x="640.8" y="244.95" width="67.20" height="26.50" fill="#cdd8e0"/>
<rect x="339.1" y="274.20" width="146.50" height="26.50" fill="#e8edf1"/>
<rect x="488.0" y="274.20" width="150.00" height="26.50" fill="#e8edf1"/>
<rect x="640.8" y="274.20" width="67.20" height="26.50" fill="#e8edf1"/>
<rect x="339.1" y="303.45" width="146.50" height="26.50" fill="#cdd8e0"/>
<rect x="488.0" y="303.45" width="150.00" height="26.50" fill="#cdd8e0"/>
<rect x="640.8" y="303.45" width="67.20" height="26.50" fill="#cdd8e0"/>
<rect x="339.1" y="332.70" width="146.50" height="26.50" fill="#e8edf1"/>
<rect x="488.0" y="332.70" width="150.00" height="26.50" fill="#e8edf1"/>
<rect x="640.8" y="332.70" width="67.20" height="26.50" fill="#e8edf1"/>
<rect x="339.1" y="361.95" width="146.50" height="26.50" fill="#cdd8e0"/>
<rect x="488.0" y="361.95" width="150.00" height="26.50" fill="#cdd8e0"/>
<rect x="640.8" y="361.95" width="67.20" height="26.50" fill="#cdd8e0"/>
<rect x="339.1" y="391.20" width="146.50" height="26.50" fill="#e8edf1"/>
<rect x="488.0" y="391.20" width="150.00" height="26.50" fill="#e8edf1"/>
<rect x="640.8" y="391.20" width="67.20" height="26.50" fill="#e8edf1"/></svg>
<div class="t h" style="left:345.2px;top:16.30px">2015 Rank
Commodity</div>
<div class="t h" style="left:495.0px;top:16.30px">Farm Gate
Value</div>
<div class="t h" style="left:646.4px;top:16.30px">% of
GA
Total</div>
<div class="t" style="left:345.2px;top:110.30px">1 Broilers</div>
<div class="t" style="left:495.0px;top:110.30px">$4,428,452,093</div>
<div class="t" style="left:646.4px;top:110.30px">32.00
%</div>
<div class="t" style="left:345.2px;top:161.40px">2 Eggs</div>
<div class="t" style="left:495.0px;top:161.40px">$937,050,097</div>
<div class="t" style="left:646.4px;top:161.40px">6.77%</div>
<div class="t" style="left:345.2px;top:190.65px">3 Beef</div>
<div class="t" style="left:495.0px;top:190.65px">$923,359,237</div>
<div class="t" style="left:646.4px;top:190.65px">6.67%</div>
<div class="t" style="left:345.2px;top:219.90px">4 Cotton</div>
<div class="t" style="left:495.0px;top:219.90px">$713,144,293</div>
<div class="t" style="left:646.4px;top:219.90px">5.15%</div>
<div class="t" style="left:345.2px;top:249.15px">5 Peanuts</div>
<div class="t" style="left:495.0px;top:249.15px">$684,626,931</div>
<div class="t" style="left:646.4px;top:249.15px">4.95%</div>
<div class="t" style="left:345.2px;top:278.40px">6 Timber</div>
<div class="t" style="left:495.0px;top:278.40px">$681,237,748</div>
<div class="t" style="left:646.4px;top:278.40px">4.92%</div>
<div class="t" style="left:345.2px;top:307.65px">7 Greenhouse</div>
<div class="t" style="left:495.0px;top:307.65px">$428,051,228</div>
<div class="t" style="left:646.4px;top:307.65px">3.09%</div>
<div class="t" style="left:345.2px;top:336.90px">8 Dairy</div>
<div class="t" style="left:495.0px;top:336.90px">$407,721,765</div>
<div class="t" style="left:646.4px;top:336.90px">2.95%</div>
<div class="t" style="left:345.2px;top:366.15px">9 Pecans</div>
<div class="t" style="left:495.0px;top:366.15px">$361,301,753</div>
<div class="t" style="left:646.4px;top:366.15px">2.61%</div>
<div class="t" style="left:345.2px;top:395.40px">10 Horses</div>
<div class="t" style="left:495.0px;top:395.40px">$280,366,400</div>
<div class="t" style="left:646.4px;top:395.40px">2.03%</div>
</body></html>
